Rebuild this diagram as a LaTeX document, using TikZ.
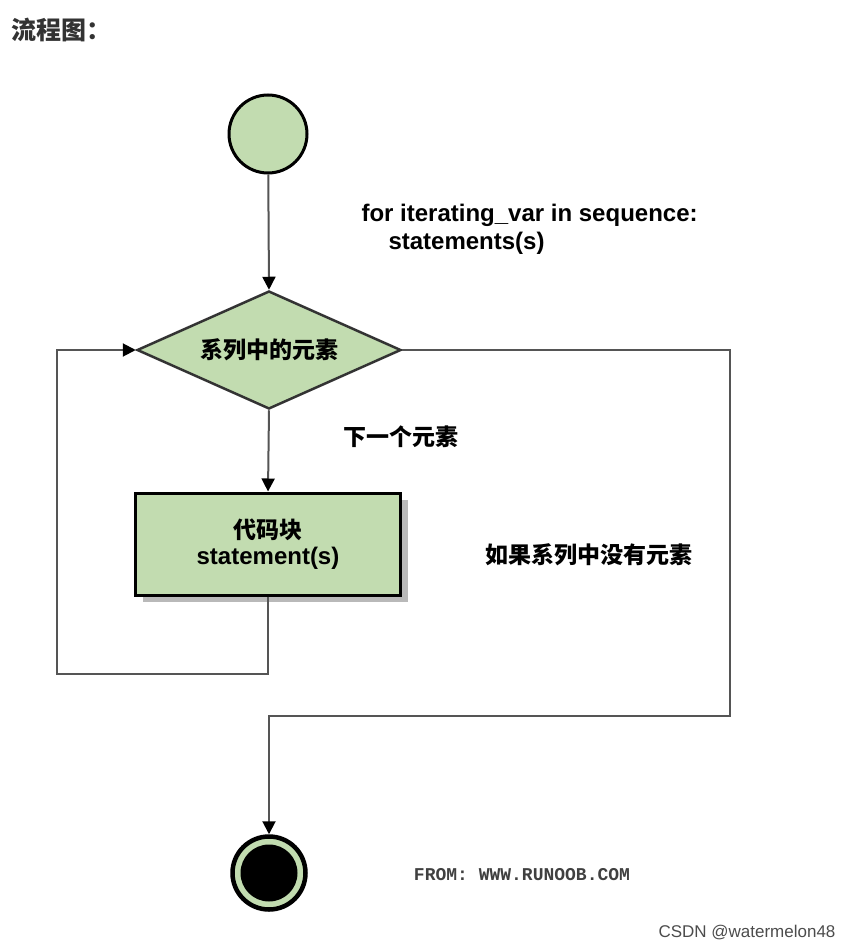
\documentclass[tikz,border=0pt]{standalone}
\usepackage{fontspec}
\setmainfont{Liberation Sans}
\setmonofont{Liberation Mono}
\newfontfamily\cjk{Noto Sans CJK SC}
\usetikzlibrary{shapes.geometric,arrows.meta,shadows}
\definecolor{flowgreen}{RGB}{194,220,176}
\definecolor{linegray}{RGB}{85,85,85}
\begin{document}
\begin{tikzpicture}[x=1pt,y=-1pt,
    txt/.style={font=\fontsize{24}{26}\selectfont\bfseries},
    cjktxt/.style={font=\fontsize{23}{26}\selectfont\cjk\bfseries},
    flow/.style={draw=linegray,line width=2pt,-{Triangle[length=13pt,width=13pt,color=black]}}]
  \useasboundingbox (0,0) rectangle (852,950);
  \node[anchor=west,font=\fontsize{25}{28}\selectfont\cjk\bfseries,text=black!80] (title) at (8,30) {流程图：};
  % start and end
  \node[circle,draw=black,line width=3pt,fill=flowgreen,minimum size=78pt,inner sep=0pt] (start) at (268,134) {};
  \node[circle,draw=black,line width=4.5pt,fill=flowgreen,minimum size=73pt,inner sep=0pt] (stop) at (269,873) {};
  \fill[black] (stop.center) circle[radius=28.5];
  % loop test and body
  \node[diamond,aspect=2.24,draw=black!80,line width=2.5pt,fill=flowgreen,minimum width=264pt,minimum height=118pt,inner sep=0pt,cjktxt] (choice) at (269,350) {系列中的元素};
  \node[rectangle,draw=black,line width=3pt,fill=flowgreen,minimum width=265pt,minimum height=102pt,inner sep=0pt,align=center,
        drop shadow={shadow xshift=7pt,shadow yshift=-7pt,fill=gray!55,opacity=1},txt] (body) at (268,544)
        {{\fontsize{23}{26}\selectfont\cjk\bfseries 代码块}\\statement(s)};
  % labels
  \node[anchor=west,txt] (head) at (358,215) {for iterating\_var in sequence:};
  \node[anchor=west,txt] (stmt) at (385,243) {statements(s)};
  \node[cjktxt] (nextlbl) at (401,437) {下一个元素};
  \node[cjktxt] (nonelbl) at (589,555) {如果系列中没有元素};
  \node[font=\fontsize{18}{20}\selectfont\ttfamily\bfseries,text=black!75] (src) at (522,875) {FROM: WWW.RUNOOB.COM};
  \node[font=\fontsize{17}{20}\selectfont,text=black!70] (credit) at (747,933) {CSDN @watermelon48};
  % connectors
  \coordinate (loop) at (57,674);
  \coordinate (exit) at (730,716);
  \draw[flow] (start) -- (choice.north);
  \draw[flow] (choice.south) -- (body.north);
  \draw[flow] (body.south) |- (loop) |- (choice.west);
  \draw[flow] (choice.east) -| (exit) -| (stop.north);
\end{tikzpicture}
\end{document}
